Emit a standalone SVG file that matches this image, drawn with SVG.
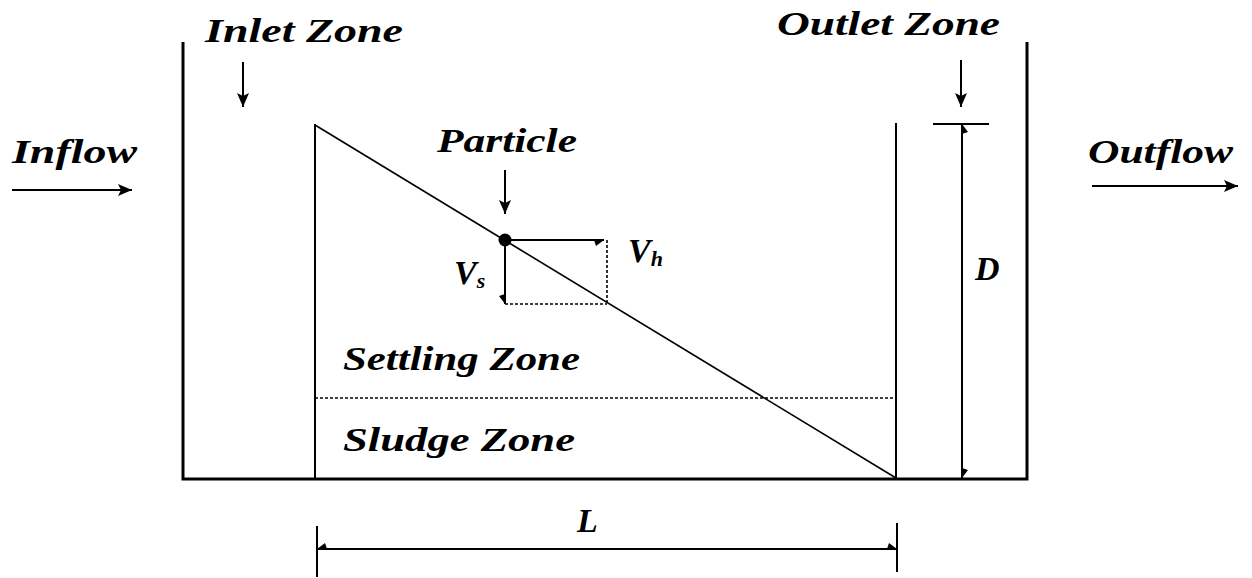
<svg xmlns="http://www.w3.org/2000/svg" width="1252" height="578" viewBox="0 0 1252 578">
<style>
  .lbl { font-family: "Liberation Serif", "DejaVu Serif", serif; font-weight: bold; font-style: italic; font-size: 34px; fill: #000; }
  .sub { font-size: 22px; }
  .wall { stroke: #000; stroke-width: 3; fill: none; }
  .thin { stroke: #000; stroke-width: 2; fill: none; }
  .diag { stroke: #000; stroke-width: 1.6; fill: none; }
  .dot { stroke: #000; stroke-width: 1.6; fill: none; stroke-dasharray: 3 2; }
</style>
<defs>
  <marker id="full" viewBox="0 0 14 12" refX="14" refY="6" markerWidth="14" markerHeight="12" markerUnits="userSpaceOnUse" orient="auto">
    <path d="M0,0 L14,6 L0,12 L3,6 Z" fill="#000"/>
  </marker>
  <marker id="halfA" viewBox="0 0 10 6" refX="10" refY="0" markerWidth="10" markerHeight="6" markerUnits="userSpaceOnUse" orient="auto-start-reverse">
    <path d="M0,0 L10,0 L2,6 Z" fill="#000"/>
  </marker>
  <marker id="halfB" viewBox="0 -6 10 6" refX="10" refY="0" markerWidth="10" markerHeight="6" markerUnits="userSpaceOnUse" orient="auto">
    <path d="M0,0 L10,0 L2,-6 Z" fill="#000"/>
  </marker>
</defs>

<g id="tank">
  <path class="wall" d="M183,42 L183,479 L1027,479 L1027,42"/>
</g>
<g id="settling-region">
  <line class="thin" x1="315" y1="124" x2="315" y2="479"/>
  <line class="thin" x1="896" y1="123" x2="896" y2="479"/>
  <line class="diag" x1="315" y1="125" x2="896" y2="478"/>
  <line class="dot" x1="315" y1="398" x2="896" y2="398"/>
</g>

<g id="inlet-zone">
  <text class="lbl" x="205" y="42" textLength="198" lengthAdjust="spacingAndGlyphs">Inlet Zone</text>
</g>
<g id="outlet-zone">
  <text class="lbl" x="777" y="35" textLength="223" lengthAdjust="spacingAndGlyphs">Outlet Zone</text>
</g>
<g id="inflow">
  <text class="lbl" x="12" y="163" textLength="125" lengthAdjust="spacingAndGlyphs">Inflow</text>
</g>
<g id="outflow">
  <text class="lbl" x="1088" y="163" textLength="145" lengthAdjust="spacingAndGlyphs">Outflow</text>
</g>
<g id="particle">
  <text class="lbl" x="437" y="152" textLength="140" lengthAdjust="spacingAndGlyphs">Particle</text>
  <circle cx="505" cy="240" r="6.5" fill="#000"/>
</g>
<g id="vh">
  <text class="lbl" x="628" y="262">V<tspan class="sub" dy="4">h</tspan></text>
</g>
<g id="vs">
  <text class="lbl" x="454" y="284">V<tspan class="sub" dy="4">s</tspan></text>
</g>
<g id="settling-zone">
  <text class="lbl" x="343" y="370" textLength="237" lengthAdjust="spacingAndGlyphs">Settling Zone</text>
</g>
<g id="sludge-zone">
  <text class="lbl" x="343" y="451" textLength="232" lengthAdjust="spacingAndGlyphs">Sludge Zone</text>
</g>
<g id="depth">
  <text class="lbl" x="975" y="280">D</text>
</g>
<g id="length">
  <text class="lbl" x="577" y="532">L</text>
</g>

<g id="connectors">
  <line class="thin" x1="12" y1="190" x2="132" y2="190" marker-end="url(#full)"/>
  <line class="thin" x1="1092" y1="186" x2="1238" y2="186" marker-end="url(#full)"/>
  <line class="thin" x1="243" y1="62" x2="243" y2="107" marker-end="url(#full)"/>
  <line class="thin" x1="961" y1="60" x2="961" y2="107" marker-end="url(#full)"/>
  <line class="thin" x1="505" y1="170" x2="505" y2="214" marker-end="url(#full)"/>
  <line class="thin" x1="505" y1="240" x2="604" y2="240" marker-end="url(#halfA)"/>
  <line class="thin" x1="505" y1="240" x2="505" y2="304" marker-end="url(#halfA)"/>
  <line class="dot" x1="607" y1="240" x2="607" y2="304"/>
  <line class="dot" x1="505" y1="304" x2="607" y2="304"/>
  <line class="thin" x1="933" y1="124" x2="989" y2="124"/>
  <line class="thin" x1="962" y1="124" x2="962" y2="478" marker-start="url(#halfA)" marker-end="url(#halfB)"/>
  <line class="thin" x1="317" y1="526" x2="317" y2="577"/>
  <line class="thin" x1="897" y1="523" x2="897" y2="572"/>
  <line class="thin" x1="317" y1="549" x2="897" y2="549" marker-start="url(#halfA)" marker-end="url(#halfB)"/>
</g>
</svg>
